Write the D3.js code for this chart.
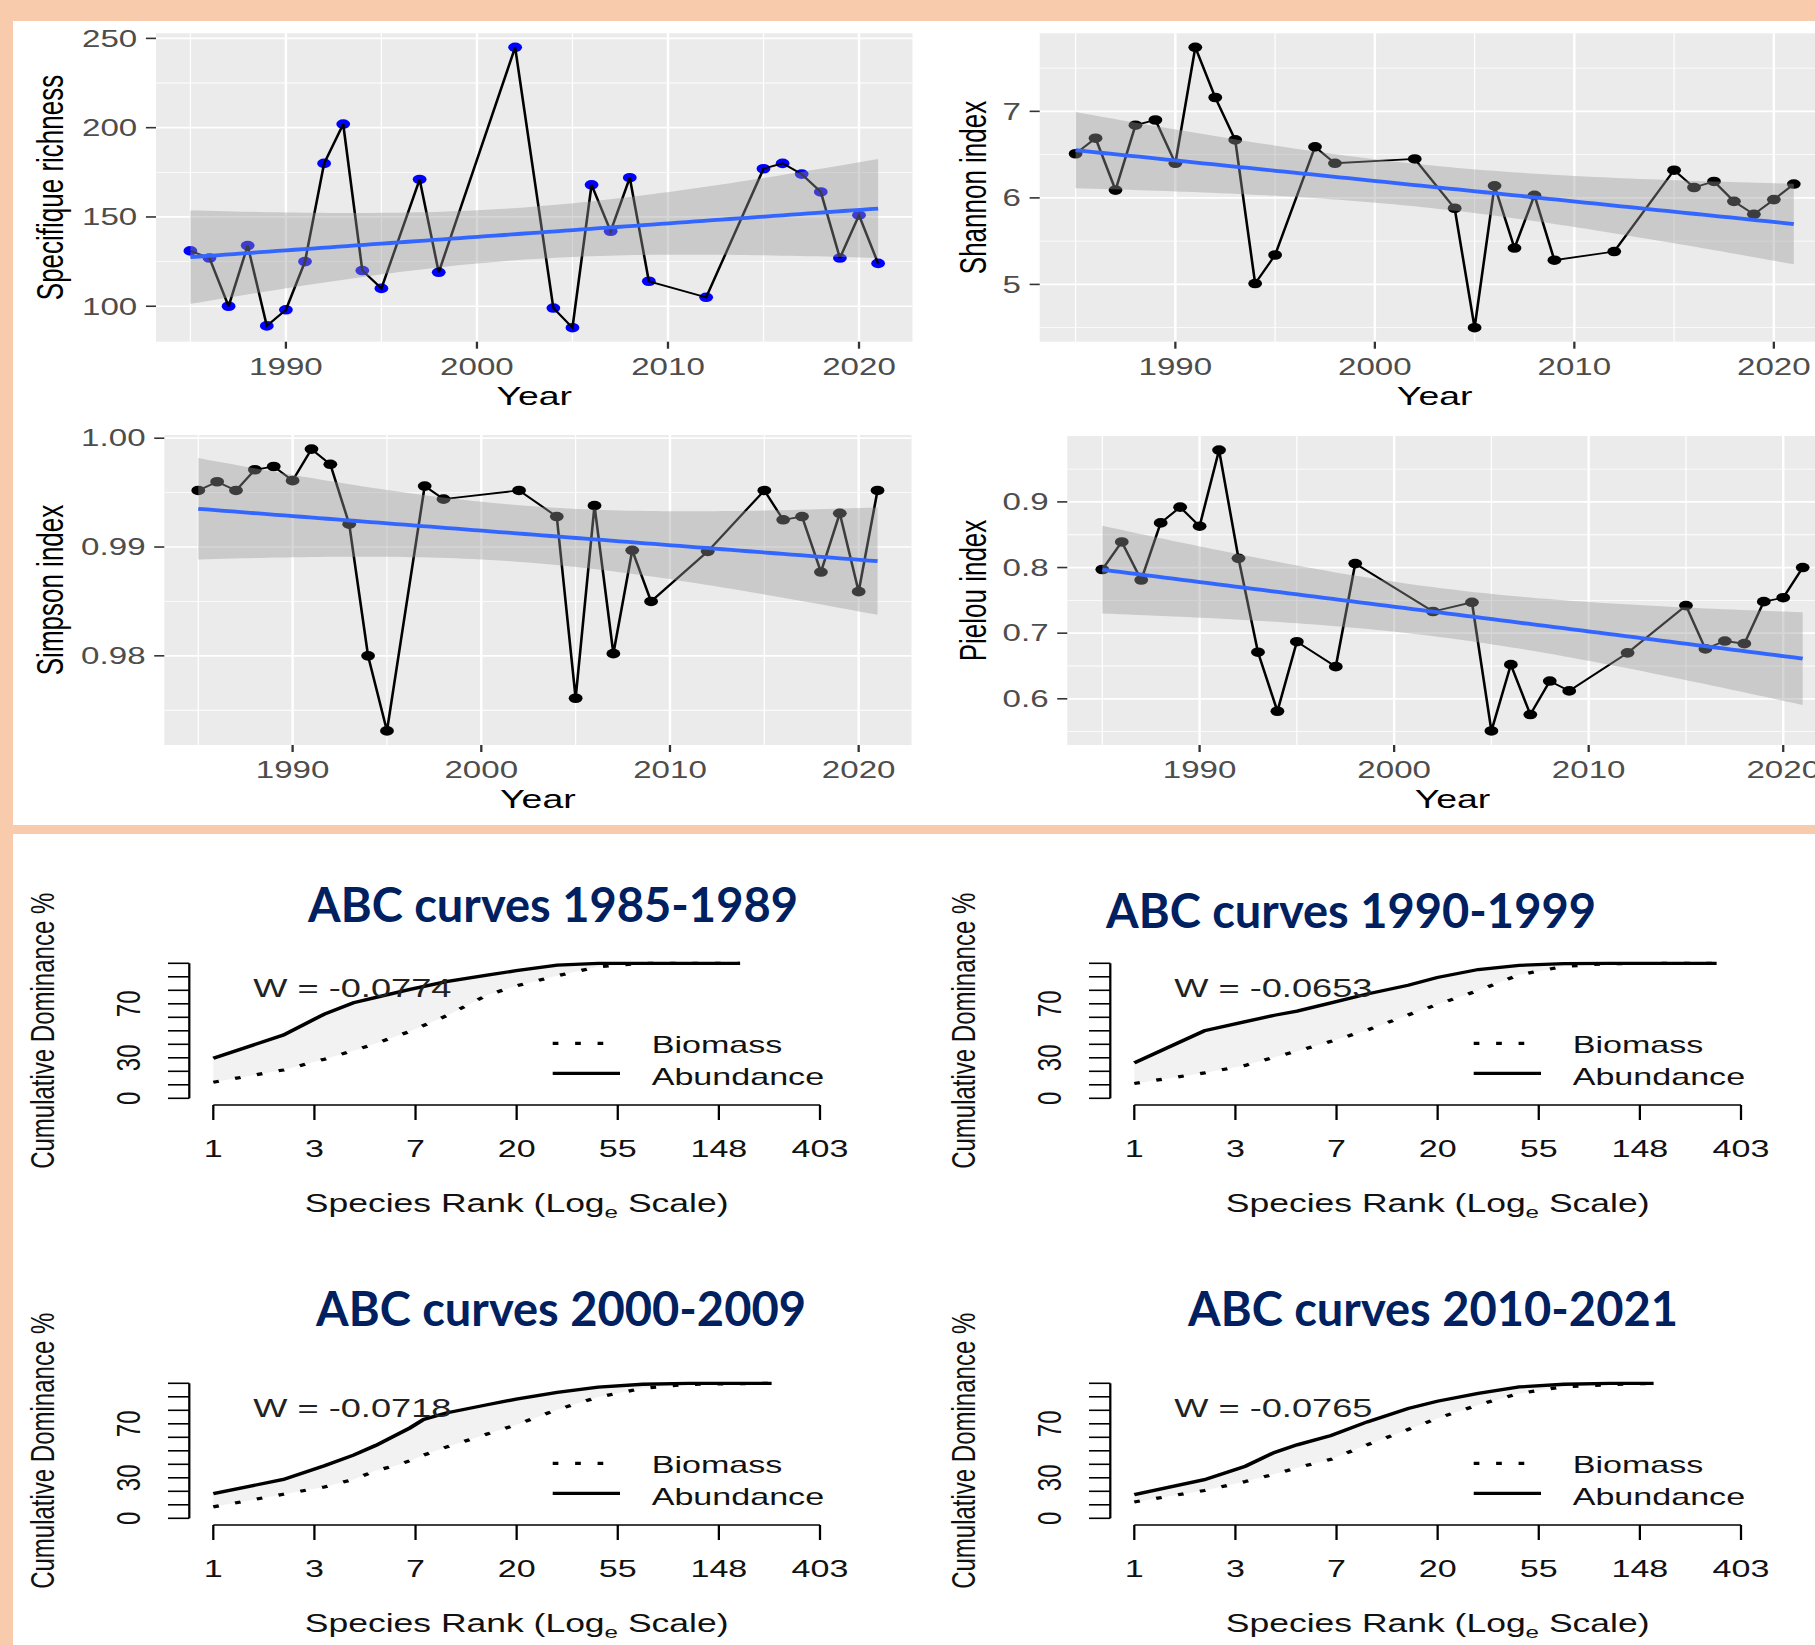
<!DOCTYPE html>
<html>
<head>
<meta charset="utf-8">
<script src="https://cdn.jsdelivr.net/npm/d3@7"></script>
<style>
  body { margin: 0; background: #f8cbad; }
  svg { display: block; font-family: "Liberation Sans", Arial, sans-serif; }
</style>
</head>
<body>
<div id="chart"></div>
<script>
// yearly diversity indices
const years = [1985,1986,1987,1988,1989,1990,1991,1992,1993,1994,1995,1997,1998,2002,2004,2005,2006,2007,2008,2009,2012,2015,2016,2017,2018,2019,2020,2021];
const richness = [131,127,100,134,89,98,125,180,202,120,110,171,119,245,99,88,168,142,172,114,105,177,180,174,164,127,151,124];
const shannon = [6.51,6.69,6.09,6.84,6.90,6.40,7.74,7.16,6.67,5.01,5.34,6.59,6.40,6.45,5.88,4.50,6.14,5.42,6.03,5.28,5.38,6.32,6.12,6.19,5.96,5.81,5.98,6.16];
const simpson = [0.9952,0.9960,0.9952,0.9971,0.9974,0.9961,0.9990,0.9976,0.9921,0.9800,0.9731,0.9956,0.9944,0.9952,0.9928,0.9761,0.9938,0.9802,0.9897,0.9850,0.9896,0.9952,0.9925,0.9928,0.9877,0.9931,0.9859,0.9952];
const pielou = [0.797,0.839,0.781,0.868,0.892,0.863,0.979,0.814,0.671,0.581,0.687,0.649,0.806,0.733,0.747,0.551,0.652,0.576,0.627,0.612,0.670,0.742,0.676,0.688,0.684,0.748,0.754,0.800];

const yearTicks = [1990, 2000, 2010, 2020];
const richnessTicks = [100, 150, 200, 250];
const shannonTicks = [5, 6, 7];
const simpsonTicks = [0.98, 0.99, 1.00];
const pielouTicks = [0.6, 0.7, 0.8, 0.9];

// ABC curves: cumulative dominance % at species ranks
const abcPeriods = ["1985-1989", "1990-1999", "2000-2009", "2010-2021"];
const abcW = [-0.0774, -0.0653, -0.0718, -0.0765];
const ranks1 = [1,2,3,4,5,7,10,15,20,30,45,70,183];
const abund1 = [29.6,46.9,62.4,70.8,74.8,80.7,86.4,91.3,94.5,98.7,100,100,100];
const biom1  = [11.9,21.0,29.0,35.3,40.7,49.6,61.0,76.5,83.2,90.8,97.5,100,100];
const ranks2 = [1,2,3,4,5,7,10,15,20,30,45,70,110,317];
const abund2 = [26.3,50.0,56.8,61.5,64.6,70.7,77.3,83.7,89.5,95.4,98.5,99.8,100,100];
const biom2  = [11.0,18.8,24.4,30.5,34.9,42.2,50.5,61.7,69.5,79.8,91.5,97.7,99.8,100];
const ranks3 = [1,2,3,4,5,6,7,8,10,15,20,30,45,70,110,250];
const abund3 = [18.3,28.8,39.0,46.8,54.1,61.0,67.0,73.2,78.0,84.1,88.3,93.2,97.1,99.3,100,100];
const biom3  = [8.5,17.8,23.2,28.8,35.4,38.8,42.7,46.8,52.7,62.4,69.3,80.5,89.8,96.3,99.2,100];
const ranks4 = [1,2,3,4,5,7,10,15,20,30,45,70,110,170];
const abund4 = [17.5,28.6,38.6,48.8,54.4,61.4,71.4,81.3,86.7,92.5,97.3,99.3,100,100];
const biom4  = [12.1,20.6,27.2,32.8,37.4,43.7,54.4,65.8,74.0,84.0,92.5,97.5,99.0,100];
const abcYLabels = [0, 30, 70];
const abcYTicks = d3.range(0, 101, 10);
const abcXTicks = [0, 1, 2, 3, 4, 5, 6];

const W = 1815, H = 1645;
const SXT = 1.44;   // the pasted plots are stretched sideways
const SXB = 1.42;
const T975 = 2.0555; // qt(0.975, 26)

const svg = d3.select("#chart").append("svg").attr("width", W).attr("height", H);
svg.append("rect").attr("width", W).attr("height", H).attr("fill", "#F8CBAD");
svg.append("rect").attr("x", 13).attr("y", 21).attr("width", W - 13).attr("height", 825 - 21).attr("fill", "#fff");
svg.append("rect").attr("x", 13).attr("y", 834).attr("width", W - 13).attr("height", H - 834).attr("fill", "#fff");

const topG = svg.append("g").attr("transform", `scale(${SXT},1)`);
const botG = svg.append("g").attr("transform", `scale(${SXB},1)`);

function lmFit(xs, ys) {
  const n = xs.length, mx = d3.mean(xs), my = d3.mean(ys);
  let sxx = 0, sxy = 0;
  xs.forEach((v, i) => { sxx += (v - mx) ** 2; sxy += (v - mx) * (ys[i] - my); });
  const b = sxy / sxx, a = my - b * mx;
  const s = Math.sqrt(d3.sum(xs, (v, i) => (ys[i] - a - b * v) ** 2) / (n - 2));
  return v => {
    const f = a + b * v, se = s * Math.sqrt(1 / n + (v - mx) ** 2 / sxx);
    return [f, f - T975 * se, f + T975 * se];
  };
}

function minorOf(t, sc) {
  const st = t[1] - t[0], dom = sc.domain();
  return d3.range(t.length + 1).map(i => t[0] - st / 2 + i * st).filter(v => v >= dom[0] && v <= dom[1]);
}

function timePanel(values, box, o) {
  const g = topG.append("g");
  const s = SXT;
  const [x0, x1] = d3.extent(years), [v0, v1] = d3.extent(values);
  const px = (x1 - x0) * 0.05, pv = (v1 - v0) * 0.05;
  const x = d3.scaleLinear().domain([x0 - px, x1 + px]).range([box.l / s, box.r / s]);
  const y = d3.scaleLinear().domain([v0 - pv, v1 + pv]).range([box.b, box.t]);
  const [xl, xr] = x.range();

  g.append("rect").attr("x", xl).attr("y", box.t).attr("width", xr - xl)
    .attr("height", box.b - box.t).attr("fill", "#EBEBEB");

  const grid = g.append("g").attr("stroke", "#fff");
  grid.selectAll("line.ymin").data(minorOf(o.ticks, y)).join("line").attr("class", "ymin")
    .attr("x1", xl).attr("x2", xr).attr("y1", d => y(d)).attr("y2", d => y(d)).attr("stroke-width", 0.85);
  grid.selectAll("line.xmin").data(minorOf(yearTicks, x)).join("line").attr("class", "xmin")
    .attr("x1", d => x(d)).attr("x2", d => x(d)).attr("y1", box.t).attr("y2", box.b).attr("stroke-width", 0.85);
  grid.selectAll("line.ymaj").data(o.ticks).join("line").attr("class", "ymaj")
    .attr("x1", xl).attr("x2", xr).attr("y1", d => y(d)).attr("y2", d => y(d)).attr("stroke-width", 1.7);
  grid.selectAll("line.xmaj").data(yearTicks).join("line").attr("class", "xmaj")
    .attr("x1", d => x(d)).attr("x2", d => x(d)).attr("y1", box.t).attr("y2", box.b).attr("stroke-width", 1.7);

  const pts = years.map((yr, i) => [yr, values[i]]);
  g.append("g").selectAll("circle").data(pts).join("circle")
    .attr("cx", d => x(d[0])).attr("cy", d => y(d[1])).attr("r", 4.8).attr("fill", o.color);
  g.append("path").datum(pts)
    .attr("d", d3.line().x(d => x(d[0])).y(d => y(d[1])))
    .attr("fill", "none").attr("stroke", "#000").attr("stroke-width", 1.8);

  // geom_smooth(method = "lm")
  const fit = lmFit(years, values);
  const xs = d3.range(80).map(i => x0 + (x1 - x0) * i / 79);
  const band = xs.map(v => [v, ...fit(v)]);
  g.append("path").datum(band)
    .attr("d", d3.area().x(d => x(d[0])).y0(d => y(d[2])).y1(d => y(d[3])))
    .attr("fill", "#999999").attr("fill-opacity", 0.4);
  g.append("path").datum(band)
    .attr("d", d3.line().x(d => x(d[0])).y(d => y(d[1])))
    .attr("fill", "none").attr("stroke", "#3366FF").attr("stroke-width", 3.8);

  const ax = g.append("g").attr("stroke", "#333333").attr("stroke-width", 1.6);
  ax.selectAll("line.yt").data(o.ticks).join("line").attr("class", "yt")
    .attr("x1", xl - 7).attr("x2", xl).attr("y1", d => y(d)).attr("y2", d => y(d));
  ax.selectAll("line.xt").data(yearTicks).join("line").attr("class", "xt")
    .attr("x1", d => x(d)).attr("x2", d => x(d)).attr("y1", box.b).attr("y2", box.b + 7);

  const lab = g.append("g").attr("font-size", 23).attr("fill", "#4D4D4D");
  lab.selectAll("text.yl").data(o.ticks).join("text").attr("class", "yl")
    .attr("x", xl - 13).attr("y", d => y(d)).attr("dy", "0.36em").attr("text-anchor", "end").text(o.fmt);
  lab.selectAll("text.xl").data(yearTicks).join("text").attr("class", "xl")
    .attr("x", d => x(d)).attr("y", box.b + 33).attr("text-anchor", "middle").text(d => d);

  g.append("text").attr("x", (xl + xr) / 2).attr("y", box.b + 63).attr("text-anchor", "middle")
    .attr("font-size", 26).attr("fill", "#000").text("Year");
  g.append("text").attr("transform", `translate(${o.titleX / s},${(box.t + box.b) / 2}) rotate(-90)`)
    .attr("text-anchor", "middle").attr("font-size", 26).attr("fill", "#000").text(o.title);
}

timePanel(richness, { l: 156, r: 912.5, t: 33.3, b: 341.7 },
  { ticks: richnessTicks, fmt: d3.format("d"), color: "#0000FF", title: "Specifique richness", titleX: 63 });
timePanel(shannon, { l: 1039.7, r: 1829.7, t: 33.3, b: 341.7 },
  { ticks: shannonTicks, fmt: d3.format("d"), color: "#000", title: "Shannon index", titleX: 986 });
timePanel(simpson, { l: 164.3, r: 911.5, t: 435, b: 745 },
  { ticks: simpsonTicks, fmt: d3.format(".2f"), color: "#000", title: "Simpson index", titleX: 63 });
timePanel(pielou, { l: 1067.3, r: 1837.7, t: 436, b: 745 },
  { ticks: pielouTicks, fmt: d3.format(".1f"), color: "#000", title: "Pielou index", titleX: 986 });

// ---- ABC curves ----
const abcSets = [
  { ranks: ranks1, abund: abund1, biom: biom1 },
  { ranks: ranks2, abund: abund2, biom: biom2 },
  { ranks: ranks3, abund: abund3, biom: biom3 },
  { ranks: ranks4, abund: abund4, biom: biom4 }
];
const abcOffsets = [[0, 0], [921, 0], [0, 420], [921, 420]];
const abcTitlePos = [[308, 922], [1106, 928], [316, 1326], [1188, 1326]];

function abcPanel(k) {
  const s = SXB, [dx, dy] = abcOffsets[k], set = abcSets[k];
  const g = botG.append("g");
  const x = d3.scaleLog().base(Math.E).domain([1, Math.exp(6)]).range([(213.3 + dx) / s, (820 + dx) / s]);
  const y = d3.scaleLinear().domain([0, 100]).range([1098.3 + dy, 963.3 + dy]);
  const axX = (189.3 + dx) / s, axY = 1105 + dy;
  const rows = set.ranks.map((r, i) => [r, set.biom[i], set.abund[i]]);

  g.append("path").datum(rows)
    .attr("d", d3.area().x(d => x(d[0])).y0(d => y(d[1])).y1(d => y(d[2])))
    .attr("fill", "#F2F2F2");
  g.append("path").datum(rows)
    .attr("d", d3.line().x(d => x(d[0])).y(d => y(d[1])))
    .attr("fill", "none").attr("stroke", "#000").attr("stroke-width", 3.2).attr("stroke-dasharray", "4 11.8");
  g.append("path").datum(rows)
    .attr("d", d3.line().x(d => x(d[0])).y(d => y(d[2])))
    .attr("fill", "none").attr("stroke", "#000").attr("stroke-width", 3.3);

  const ax = g.append("g").attr("stroke", "#000").attr("stroke-width", 1.6);
  ax.append("line").attr("x1", axX).attr("x2", axX).attr("y1", y(0)).attr("y2", y(100));
  ax.selectAll("line.yt").data(abcYTicks).join("line").attr("class", "yt")
    .attr("x1", axX - 15).attr("x2", axX).attr("y1", d => y(d)).attr("y2", d => y(d));
  ax.append("line").attr("x1", x(1)).attr("x2", x(Math.exp(6))).attr("y1", axY).attr("y2", axY);
  ax.selectAll("line.xt").data(abcXTicks).join("line").attr("class", "xt")
    .attr("x1", d => x(Math.exp(d))).attr("x2", d => x(Math.exp(d))).attr("y1", axY).attr("y2", axY + 15);

  const txt = g.append("g").attr("font-size", 24).attr("fill", "#111");
  txt.selectAll("text.xl").data(abcXTicks).join("text").attr("class", "xl")
    .attr("x", d => x(Math.exp(d))).attr("y", 1157 + dy).attr("text-anchor", "middle")
    .text(d => Math.round(Math.exp(d)));
  txt.selectAll("text.yl").data(abcYLabels).join("text").attr("class", "yl")
    .attr("transform", d => `translate(${(140 + dx) / s},${y(d)}) rotate(-90)`)
    .attr("text-anchor", "middle").text(d => d);

  const xt = txt.append("text").attr("x", (x(1) + x(Math.exp(6))) / 2).attr("y", 1212 + dy)
    .attr("text-anchor", "middle").attr("font-size", 25);
  xt.append("tspan").text("Species Rank (Log");
  xt.append("tspan").attr("dy", 6).attr("font-size", 17).text("e");
  xt.append("tspan").attr("dy", -6).text(" Scale)");
  txt.append("text").attr("transform", `translate(${(54 + dx) / s},${1030.8 + dy}) rotate(-90)`)
    .attr("text-anchor", "middle").text("Cumulative Dominance %");

  txt.append("text").attr("x", (253.3 + dx) / s).attr("y", 997 + dy).attr("font-size", 25.5)
    .attr("fill", "#222").text("W = " + abcW[k]);

  // legend
  const lx0 = (552.7 + dx) / s, lx1 = (620 + dx) / s;
  g.append("line").attr("x1", lx0).attr("x2", lx1).attr("y1", 1043.3 + dy).attr("y2", 1043.3 + dy)
    .attr("stroke", "#000").attr("stroke-width", 3.2).attr("stroke-dasharray", "4 11.8");
  g.append("line").attr("x1", lx0).attr("x2", lx1).attr("y1", 1073.3 + dy).attr("y2", 1073.3 + dy)
    .attr("stroke", "#000").attr("stroke-width", 3.3);
  txt.append("text").attr("x", (651.7 + dx) / s).attr("y", 1053 + dy).text("Biomass");
  txt.append("text").attr("x", (651.7 + dx) / s).attr("y", 1085 + dy).text("Abundance");

  svg.append("text").attr("x", abcTitlePos[k][0]).attr("y", abcTitlePos[k][1])
    .attr("font-family", "Lato, 'Open Sans', sans-serif").attr("font-weight", 700)
    .attr("font-size", 48).attr("fill", "#002060")
    .attr("textLength", 490).attr("lengthAdjust", "spacingAndGlyphs")
    .text("ABC curves " + abcPeriods[k]);
}

abcSets.forEach((_, k) => abcPanel(k));
</script>
</body>
</html>
